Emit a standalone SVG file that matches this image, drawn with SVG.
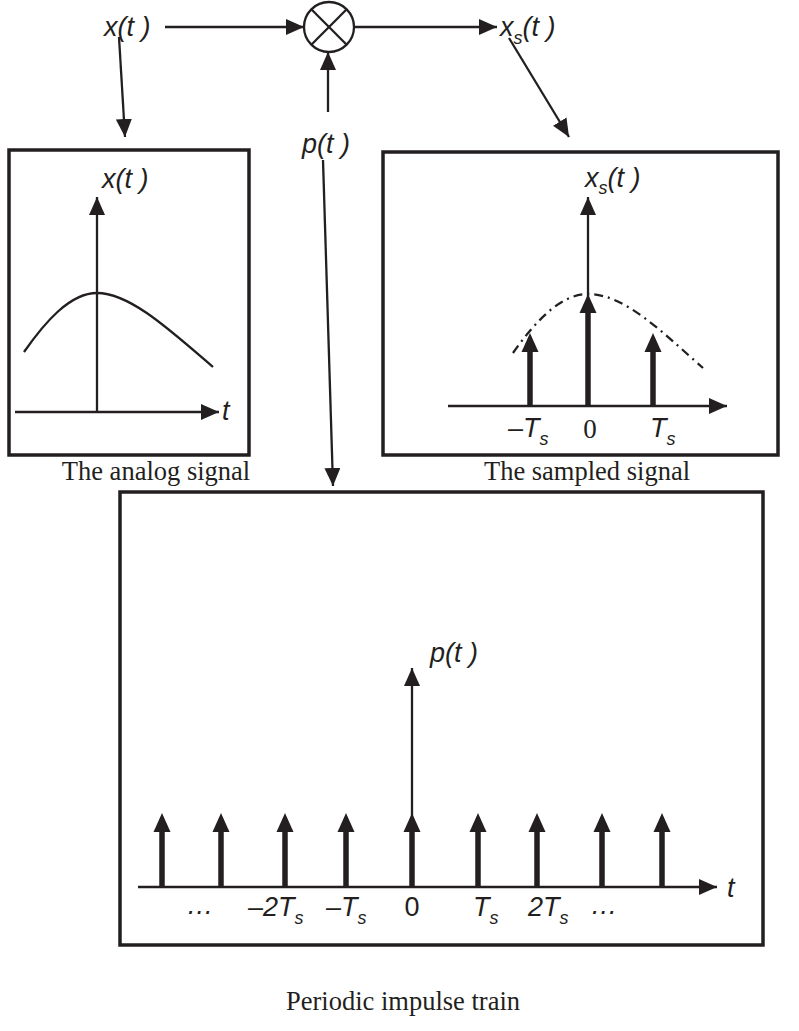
<svg xmlns="http://www.w3.org/2000/svg" width="799" height="1031" viewBox="0 0 799 1031">
<defs>
<style>
.box{fill:none;stroke:#231f20;stroke-width:3.5}
.ln{fill:none;stroke:#231f20;stroke-width:2.3}
.imp{fill:none;stroke:#231f20;stroke-width:5.5}
.lab{font-family:"Liberation Sans",Arial,sans-serif;font-style:italic;font-size:27px;fill:#231f20}
.sub{font-size:18px}
.num{font-family:"Liberation Sans",Arial,sans-serif;font-size:27px;fill:#231f20}
.cap{font-family:"Liberation Serif","Times New Roman",serif;font-size:26.5px;fill:#231f20}
.zero{font-family:"Liberation Serif","Times New Roman",serif;font-size:27px;fill:#231f20}
</style>
<marker id="ah" markerUnits="userSpaceOnUse" markerWidth="20" markerHeight="16" viewBox="0 0 20 16" refX="18" refY="8" orient="auto">
<path d="M0,0 L18,8 L0,16 Z" fill="#231f20"/>
</marker>
<symbol id="impHead" overflow="visible"><path d="M-8.5,19 L0,0 L8.5,19 Z" fill="#231f20"/></symbol>
</defs>

<g id="connectors">
<line class="ln" x1="165" y1="27" x2="304" y2="27" marker-end="url(#ah)"/>
<line class="ln" x1="354" y1="27" x2="497" y2="27" marker-end="url(#ah)"/>
<line class="ln" x1="328" y1="112" x2="328" y2="52" marker-end="url(#ah)"/>
<line class="ln" x1="119" y1="37" x2="125" y2="137" marker-end="url(#ah)"/>
<line class="ln" x1="509" y1="38" x2="569" y2="137" marker-end="url(#ah)"/>
<line class="ln" x1="323" y1="160" x2="333" y2="486" marker-end="url(#ah)"/>
</g>

<g id="multiplier">
<circle cx="329" cy="27" r="25" fill="none" stroke="#231f20" stroke-width="2.3"/>
<line class="ln" x1="311.3" y1="9.3" x2="346.7" y2="44.7"/>
<line class="ln" x1="346.7" y1="9.3" x2="311.3" y2="44.7"/>
</g>

<g id="label-x">
<text class="lab" x="104" y="36" font-size="28">x(t )</text>
</g>
<g id="label-xs">
<text class="lab" x="500" y="36" font-size="28">x<tspan class="sub" dy="8">s</tspan><tspan dy="-8">(t )</tspan></text>
</g>
<g id="label-p">
<text class="lab" x="302" y="153" font-size="28">p(t )</text>
</g>

<g id="analog-box">
<rect class="box" x="9" y="150" width="240" height="305"/>
<line class="ln" x1="97" y1="412" x2="97" y2="197" marker-end="url(#ah)"/>
<line class="ln" x1="15" y1="412" x2="219" y2="412" marker-end="url(#ah)"/>
<path class="ln" d="M24,352 C45,322 70,293 97,293 C130,293 170,330 213,367"/>
<text class="lab" x="102" y="188">x(t )</text>
<text class="lab" x="222" y="420">t</text>
</g>
<text class="cap" x="156" y="480" text-anchor="middle">The analog signal</text>

<g id="sampled-box">
<rect class="box" x="383" y="152" width="395" height="303"/>
<path class="ln" d="M513,353 C534,323 560,294 588,294 C625,294 663,333 703,368" stroke-dasharray="9,5,2,5" stroke-width="1.8"/>
<line class="ln" x1="588" y1="406" x2="588" y2="197" marker-end="url(#ah)"/>
<line class="ln" x1="448" y1="406" x2="727" y2="406" marker-end="url(#ah)"/>
<line class="imp" x1="530" y1="406" x2="530" y2="348"/>
<use href="#impHead" x="530" y="333"/>
<line class="imp" x1="588" y1="406" x2="588" y2="309"/>
<use href="#impHead" x="588" y="294"/>
<line class="imp" x1="653" y1="406" x2="653" y2="348"/>
<use href="#impHead" x="653" y="333"/>
<text class="lab" x="585" y="187">x<tspan class="sub" dy="7">s</tspan><tspan dy="-7">(t )</tspan></text>
<text class="lab" x="508" y="437">–T<tspan class="sub" dy="8">s</tspan></text>
<text class="zero" x="590" y="438" text-anchor="middle">0</text>
<text class="lab" x="650" y="437">T<tspan class="sub" dy="8">s</tspan></text>
</g>
<text class="cap" x="587" y="480" text-anchor="middle">The sampled signal</text>

<g id="impulse-box">
<rect class="box" x="120" y="492" width="643" height="453"/>
<line class="ln" x1="412" y1="887" x2="412" y2="668" marker-end="url(#ah)"/>
<line class="ln" x1="138" y1="887" x2="717" y2="887" marker-end="url(#ah)"/>
<g id="impulses">
<line class="imp" x1="162" y1="887" x2="162" y2="830"/><use href="#impHead" x="162" y="813"/>
<line class="imp" x1="221" y1="887" x2="221" y2="830"/><use href="#impHead" x="221" y="813"/>
<line class="imp" x1="285" y1="887" x2="285" y2="830"/><use href="#impHead" x="285" y="813"/>
<line class="imp" x1="346" y1="887" x2="346" y2="830"/><use href="#impHead" x="346" y="813"/>
<line class="imp" x1="412" y1="887" x2="412" y2="830"/><use href="#impHead" x="412" y="813"/>
<line class="imp" x1="478" y1="887" x2="478" y2="830"/><use href="#impHead" x="478" y="813"/>
<line class="imp" x1="537" y1="887" x2="537" y2="830"/><use href="#impHead" x="537" y="813"/>
<line class="imp" x1="602" y1="887" x2="602" y2="830"/><use href="#impHead" x="602" y="813"/>
<line class="imp" x1="662" y1="887" x2="662" y2="830"/><use href="#impHead" x="662" y="813"/>
</g>
<text class="lab" x="430" y="662">p(t )</text>
<text class="lab" x="727" y="897">t</text>
<text class="lab" x="200" y="914" text-anchor="middle">…</text>
<text class="lab" x="248" y="916">–2T<tspan class="sub" dy="8">s</tspan></text>
<text class="lab" x="326" y="916">–T<tspan class="sub" dy="8">s</tspan></text>
<text class="num" x="412" y="916" text-anchor="middle">0</text>
<text class="lab" x="473" y="916">T<tspan class="sub" dy="8">s</tspan></text>
<text class="lab" x="528" y="916">2T<tspan class="sub" dy="8">s</tspan></text>
<text class="lab" x="604" y="914" text-anchor="middle">…</text>
</g>
<text class="cap" x="403" y="1010" text-anchor="middle">Periodic impulse train</text>
</svg>
